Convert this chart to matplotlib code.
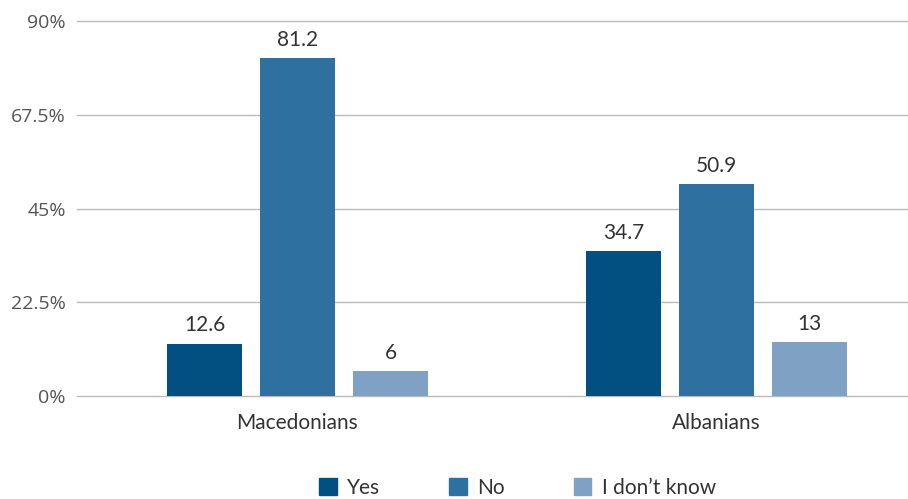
import numpy as np
import matplotlib.pyplot as plt
from matplotlib.patches import Patch

groups = ["Macedonians", "Albanians"]
answers = ["Yes", "No", "I don\u2019t know"]
yes_vals = [12.6, 34.7]
no_vals = [81.2, 50.9]
dunno_vals = [6, 13]
y_ticks = [0, 22.5, 45, 67.5, 90]
y_tick_labels = ["0%", "22.5%", "45%", "67.5%", "90%"]

colors = ["#024f82", "#2e71a0", "#7fa1c4"]
txt = "#333333"

plt.rcParams["font.family"] = ["Lato", "DejaVu Sans"]

fig = plt.figure(figsize=(9.08, 4.99), dpi=100)
ax = fig.add_axes([77 / 908, 103 / 499, 831 / 908, 375 / 499])

x = np.arange(len(groups))
width = 0.179
step = 0.222
for i, vals in enumerate([yes_vals, no_vals, dunno_vals]):
    bars = ax.bar(x + (i - 1) * step, vals, width, color=colors[i], zorder=3)
    for b, v in zip(bars, vals):
        ax.annotate(f"{v:g}", (b.get_x() + b.get_width() / 2, v),
                    xytext=(0, 13), textcoords="offset points",
                    ha="center", va="center", fontsize=15, color=txt)

ax.set_xlim(-0.526, 1.457)
ax.set_ylim(0, 90)
ax.set_yticks(y_ticks)
ax.set_yticklabels(y_tick_labels, fontfamily="Open Sans", fontsize=14, color="#555555")
ax.set_xticks(x)
ax.set_xticklabels(groups, fontsize=15, color=txt)
ax.tick_params(axis="both", length=0)
ax.tick_params(axis="x", pad=12)
ax.tick_params(axis="y", pad=8)
ax.grid(axis="y", color="#bbbbbb", linewidth=1, zorder=0)
ax.set_axisbelow(True)
for gl in ax.get_ygridlines():
    gl.set_clip_on(False)
for s in ax.spines.values():
    s.set_visible(False)

handles = [Patch(color=c) for c in colors]
fig.legend(handles, answers, loc="center", bbox_to_anchor=(0.57, 11 / 499), ncol=3,
           frameon=False, fontsize=15, handlelength=0.85, handleheight=0.85,
           columnspacing=3.3, handletextpad=0.5, labelcolor=txt)

fig.savefig("out.png", dpi=100)
